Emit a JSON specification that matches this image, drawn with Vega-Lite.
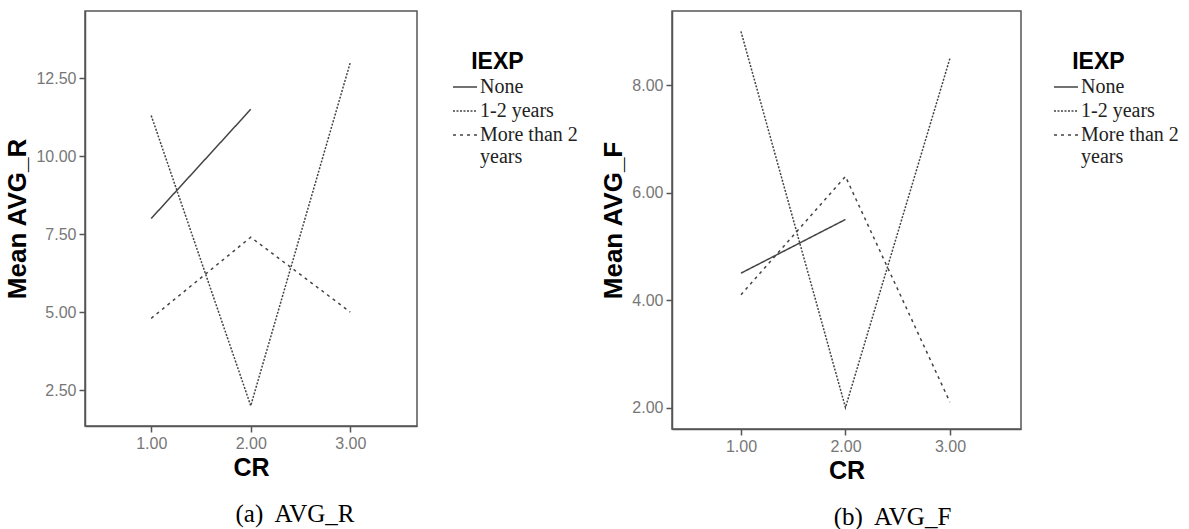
{
  "$schema": "https://vega.github.io/schema/vega-lite/v6.json",
  "background": "white",
  "padding": {"left": 4, "top": 10, "right": 0, "bottom": 0},
  "datasets": {
    "avgR": [
      {"CR": 1, "IEXP": "None", "mean": 8.0},
      {"CR": 2, "IEXP": "None", "mean": 11.5},
      {"CR": 1, "IEXP": "1-2 years", "mean": 11.3},
      {"CR": 2, "IEXP": "1-2 years", "mean": 2.0},
      {"CR": 3, "IEXP": "1-2 years", "mean": 13.0},
      {"CR": 1, "IEXP": "More than 2 years", "mean": 4.8},
      {"CR": 2, "IEXP": "More than 2 years", "mean": 7.4},
      {"CR": 3, "IEXP": "More than 2 years", "mean": 5.0}
    ],
    "avgF": [
      {"CR": 1, "IEXP": "None", "mean": 4.5},
      {"CR": 2, "IEXP": "None", "mean": 5.5},
      {"CR": 1, "IEXP": "1-2 years", "mean": 9.0},
      {"CR": 2, "IEXP": "1-2 years", "mean": 2.0},
      {"CR": 3, "IEXP": "1-2 years", "mean": 8.5},
      {"CR": 1, "IEXP": "More than 2 years", "mean": 4.1},
      {"CR": 2, "IEXP": "More than 2 years", "mean": 6.3},
      {"CR": 3, "IEXP": "More than 2 years", "mean": 2.1}
    ]
  },
  "config": {
    "view": {"stroke": "#555", "strokeWidth": 1.5},
    "axis": {
      "labelFont": "Liberation Sans", "labelFontSize": 16, "labelColor": "#777",
      "titleFont": "Liberation Sans", "titleFontSize": 25, "titleFontWeight": "bold", "titleColor": "#000",
      "tickColor": "#555", "domainColor": "#555", "domainWidth": 1.5, "tickWidth": 1.5,
      "grid": false, "tickSize": 6, "labelPadding": 3
    },
    "axisY": {"titleFontSize": 26},
    "legend": {
      "titleFont": "Liberation Sans", "titleFontSize": 23, "titleFontWeight": "bold", "titleColor": "#000",
      "titleAnchor": "start", "titlePadding": 0,
      "labelFont": "Liberation Serif", "labelFontSize": 20, "labelColor": "#222", "labelLimit": 300, "labelOffset": 2,
      "symbolType": "stroke", "symbolSize": 576, "symbolStrokeWidth": 1.5, "symbolStrokeColor": "#444",
      "rowPadding": 1
    },
    "title": {"font": "Liberation Serif", "fontSize": 25, "fontWeight": "normal", "color": "#000"}
  },
  "resolve": {"scale": {"strokeDash": "independent"}, "legend": {"strokeDash": "independent"}},
  "spacing": 21,
  "hconcat": [
    {
      "width": 332, "height": 415,
      "data": {"name": "avgR"},
      "title": {"text": "(a)\u00a0 AVG_R", "orient": "bottom", "anchor": "middle", "frame": "group", "offset": 22, "dx": 44},
      "mark": {"type": "line", "strokeWidth": 1.5, "color": "#444"},
      "encoding": {
        "x": {"field": "CR", "type": "quantitative",
              "scale": {"domain": [0.335, 3.67], "nice": false, "zero": false},
              "axis": {"values": [1, 2, 3], "format": ".2f", "title": "CR", "titlePadding": 4}},
        "y": {"field": "mean", "type": "quantitative",
              "scale": {"domain": [1.35, 14.65], "nice": false, "zero": false},
              "axis": {"values": [2.5, 5, 7.5, 10, 12.5], "format": ".2f", "title": "Mean AVG_R", "titlePadding": 5}},
        "strokeDash": {"field": "IEXP", "type": "nominal",
              "scale": {"domain": ["None", "1-2 years", "More than 2 years"], "range": [[1, 0], [2, 1.5], [3, 4]]},
              "legend": {"title": "\u200b\u00a0\u00a0\u00a0IEXP", "orient": "none", "legendX": 367, "legendY": 40,
                         "labelExpr": "datum.label == 'More than 2 years' ? ['More than 2', 'years'] : datum.label"}}
      }
    },
    {
      "width": 349, "height": 418,
      "data": {"name": "avgF"},
      "title": {"text": "(b)\u00a0 AVG_F", "orient": "bottom", "anchor": "middle", "frame": "group", "offset": 22, "dx": 46},
      "mark": {"type": "line", "strokeWidth": 1.5, "color": "#444"},
      "encoding": {
        "x": {"field": "CR", "type": "quantitative",
              "scale": {"domain": [0.34, 3.68], "nice": false, "zero": false},
              "axis": {"values": [1, 2, 3], "format": ".2f", "title": "CR", "titlePadding": 4}},
        "y": {"field": "mean", "type": "quantitative",
              "scale": {"domain": [1.6, 9.38], "nice": false, "zero": false},
              "axis": {"values": [2, 4, 6, 8], "format": ".2f", "title": "Mean AVG_F", "titlePadding": 5}},
        "strokeDash": {"field": "IEXP", "type": "nominal",
              "scale": {"domain": ["None", "1-2 years", "More than 2 years"], "range": [[1, 0], [2, 1.5], [3, 4]]},
              "legend": {"title": "\u200b\u00a0\u00a0\u00a0IEXP", "orient": "none", "legendX": 381, "legendY": 40,
                         "labelExpr": "datum.label == 'More than 2 years' ? ['More than 2', 'years'] : datum.label"}}
      }
    }
  ]
}
